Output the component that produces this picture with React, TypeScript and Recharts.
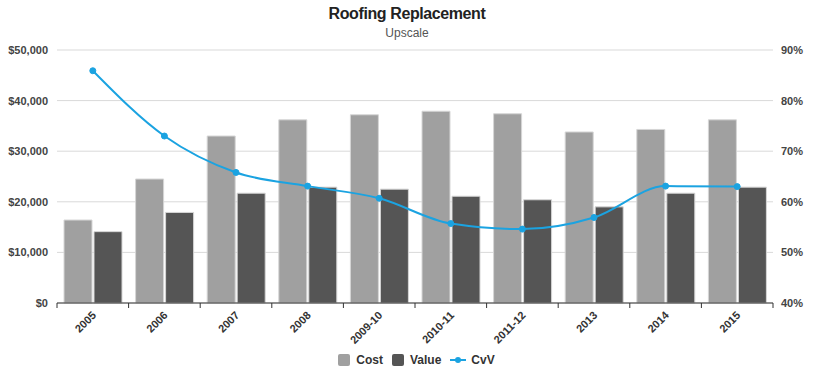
import { Bar, CartesianGrid, ComposedChart, Line, XAxis, YAxis } from "recharts";

const periods = ["2005", "2006", "2007", "2008", "2009-10", "2010-11", "2011-12", "2013", "2014", "2015"];
const cost = [16400, 24500, 33000, 36200, 37200, 37900, 37400, 33800, 34300, 36200];
const value = [14100, 17900, 21700, 22900, 22500, 21100, 20400, 19000, 21700, 22900];
const cvv = [85.9, 73.0, 65.8, 63.1, 60.7, 55.7, 54.6, 56.9, 63.1, 63.0];
const dollarTicks = [0, 10000, 20000, 30000, 40000, 50000];
const pctTicks = [40, 50, 60, 70, 80, 90];

const FONT = '"Liberation Sans", Arial, sans-serif';
const COST = "#a0a0a0";
const VALUE = "#555555";
const LINE = "#1ba3e1";

const rows = periods.map((p, i) => ({ period: p, cost: cost[i], value: value[i], cvv: cvv[i] }));

function PeriodTick(props: any) {
  const { x, y, payload, index } = props;
  const half = payload?.offset ?? 35.8;
  return (
    <g>
      <line x1={x - half} x2={x - half} y1={y} y2={y + 5} stroke="#333" />
      {index === periods.length - 1 && <line x1={x + half} x2={x + half} y1={y} y2={y + 5} stroke="#333" />}
      <text
        x={x + 4}
        y={y + 13}
        transform={`rotate(-45, ${x + 4}, ${y + 13})`}
        textAnchor="end"
        fontSize={11}
        fontWeight="bold"
        fill="#333"
        fontFamily={FONT}
      >
        {payload.value}
      </text>
    </g>
  );
}

function LegendKey() {
  const item = { display: "flex", alignItems: "center", marginRight: 9 } as const;
  const box = (c: string) => ({ width: 12, height: 12, borderRadius: 2, background: c, marginRight: 6 });
  return (
    <div
      style={{
        position: "absolute",
        top: 353,
        left: 14,
        width: 814,
        display: "flex",
        justifyContent: "center",
        fontFamily: FONT,
        fontSize: 12,
        fontWeight: "bold",
        color: "#333",
      }}
    >
      <div style={item}>
        <span style={box(COST)} />
        Cost
      </div>
      <div style={item}>
        <span style={box(VALUE)} />
        Value
      </div>
      <div style={item}>
        <svg width={16} height={10} style={{ marginRight: 5 }}>
          <line x1={0} x2={16} y1={5} y2={5} stroke={LINE} strokeWidth={2} />
          <circle cx={8} cy={5} r={3} fill={LINE} />
        </svg>
        CvV
      </div>
    </div>
  );
}

export default function App() {
  return (
    <div style={{ position: "relative", width: 814, height: 368, background: "#fff", fontFamily: FONT }}>
      <style>{"body{margin:0}"}</style>
      <div
        style={{
          position: "absolute",
          top: 5,
          width: 814,
          textAlign: "center",
          fontSize: 16,
          letterSpacing: -0.4,
          fontWeight: "bold",
          color: "#222",
        }}
      >
        Roofing Replacement
      </div>
      <div style={{ position: "absolute", top: 26, width: 814, textAlign: "center", fontSize: 12, color: "#555" }}>
        Upscale
      </div>
      <ComposedChart
        width={814}
        height={368}
        data={rows}
        margin={{ top: 50, right: 0, bottom: 0, left: 0 }}
        barCategoryGap={7}
        barGap={2}
      >
        <CartesianGrid yAxisId="left" vertical={false} stroke="#d9d9d9" />
        <XAxis
          dataKey="period"
          height={65}
          interval={0}
          tickSize={0}
          tickMargin={0}
          tickLine={false}
          axisLine={{ stroke: "#333" }}
          tick={<PeriodTick />}
        />
        <YAxis
          yAxisId="left"
          width={57}
          domain={[0, 50000]}
          ticks={dollarTicks}
          axisLine={false}
          tickLine={false}
          tickMargin={3}
          tickFormatter={(v: number) => "$" + v.toLocaleString("en-US")}
          tick={{ fontSize: 11, fontWeight: "bold", fill: "#444", fontFamily: FONT }}
        />
        <YAxis
          yAxisId="right"
          orientation="right"
          width={41}
          domain={[40, 90]}
          ticks={pctTicks}
          axisLine={false}
          tickLine={false}
          tickMargin={2}
          tickFormatter={(v: number) => v + "%"}
          tick={{ fontSize: 11, fontWeight: "bold", fill: "#444", fontFamily: FONT }}
        />
        <Bar yAxisId="left" dataKey="cost" name="Cost" fill={COST} stroke="#d6d6d6" strokeWidth={1} isAnimationActive={false} />
        <Bar yAxisId="left" dataKey="value" name="Value" fill={VALUE} stroke="#d6d6d6" strokeWidth={1} isAnimationActive={false} />
        <Line
          yAxisId="right"
          type="monotone"
          dataKey="cvv"
          name="CvV"
          stroke={LINE}
          strokeWidth={2}
          dot={{ r: 3, fill: LINE, stroke: LINE, strokeWidth: 1 }}
          isAnimationActive={false}
        />
      </ComposedChart>
      <LegendKey />
    </div>
  );
}
